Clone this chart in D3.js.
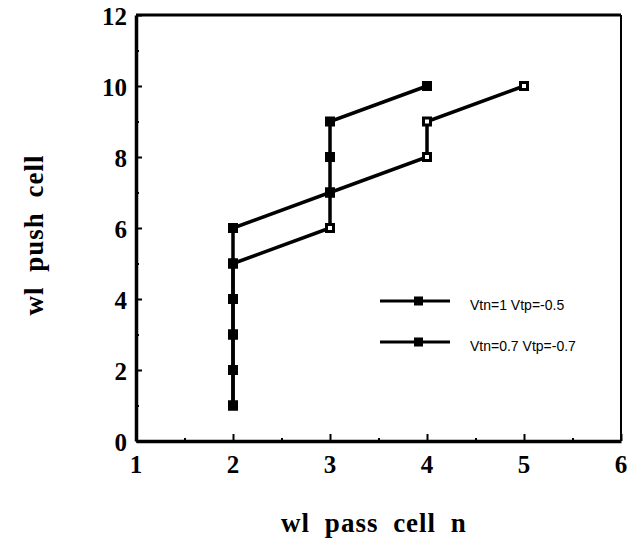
<!DOCTYPE html>
<html>
<head>
<meta charset="UTF-8">
<script src="https://d3js.org/d3.v7.min.js"></script>
<style>
  body { margin: 0; background: #fff; }
  .tick-label { font-family: "Liberation Serif", "DejaVu Serif", serif; font-weight: bold; font-size: 25px; fill: #000; }
  .axis-title { font-family: "Liberation Serif", "DejaVu Serif", serif; font-weight: bold; font-size: 27px; fill: #000;
                letter-spacing: 1px; word-spacing: 7px; }
  .legend text { font-family: "Liberation Sans", Arial, sans-serif; font-size: 14px; fill: #000; }
</style>
</head>
<body>
<div id="chart"></div>
<script>
// data
const seriesNames = ["Vtn=1 Vtp=-0.5", "Vtn=0.7 Vtp=-0.7"];
const xA = [2, 2, 2, 2, 2, 2, 3, 3, 3, 4];
const yA = [1, 2, 3, 4, 5, 6, 7, 8, 9, 10];
const xB = [2, 2, 2, 2, 2, 3, 3, 4, 4, 5];
const yB = [1, 2, 3, 4, 5, 6, 7, 8, 9, 10];
const xTicks = [1, 2, 3, 4, 5, 6];
const yTicks = [0, 2, 4, 6, 8, 10, 12];

const W = 627, H = 542;
const plotL = 136, plotR = 621, plotT = 15, plotB = 441;

const svg = d3.select("#chart").append("svg")
    .attr("width", W).attr("height", H);

const x = d3.scaleLinear().domain([1, 6]).range([plotL, plotR]);
const y = d3.scaleLinear().domain([0, 12]).range([plotB, plotT]);

// frame
svg.append("line").attr("x1", plotL).attr("x2", plotR).attr("y1", plotT).attr("y2", plotT)
    .attr("stroke", "#000").attr("stroke-width", 3);
svg.append("line").attr("x1", plotR).attr("x2", plotR).attr("y1", plotT).attr("y2", plotB)
    .attr("stroke", "#000").attr("stroke-width", 2);

// axes with inward ticks
const xAxis = d3.axisBottom(x).tickValues(d3.range(1, 6.01, 0.5)).tickSize(0).tickFormat("");
const gx = svg.append("g").attr("transform", `translate(0,${plotB})`).call(xAxis);
gx.select(".domain").attr("stroke-width", 3.5).attr("stroke", "#000");
gx.selectAll(".tick line")
    .attr("y2", d => Number.isInteger(d) ? -7 : -3)
    .attr("stroke-width", 2).attr("stroke", "#000");

const yAxis = d3.axisLeft(y).tickValues(d3.range(0, 12.01, 1)).tickSize(0).tickFormat("");
const gy = svg.append("g").attr("transform", `translate(${plotL},0)`).call(yAxis);
gy.select(".domain").attr("stroke-width", 3.5).attr("stroke", "#000");
gy.selectAll(".tick line")
    .attr("x2", d => d % 2 === 0 ? 6 : 3)
    .attr("stroke-width", 2).attr("stroke", "#000");

// tick labels
svg.selectAll(".xl").data(xTicks).join("text")
    .attr("class", "tick-label")
    .attr("x", d => x(d)).attr("y", plotB + 32)
    .attr("text-anchor", "middle").text(d => d);
svg.selectAll(".yl").data(yTicks).join("text")
    .attr("class", "tick-label")
    .attr("x", plotL - 9).attr("y", d => y(d) + 10)
    .attr("text-anchor", "end").text(d => d);

// axis titles
svg.append("text").attr("class", "axis-title")
    .attr("x", 374).attr("y", 532).attr("text-anchor", "middle")
    .text("wl pass cell n");
svg.append("text").attr("class", "axis-title")
    .attr("transform", `translate(43,235) rotate(-90)`).attr("text-anchor", "middle")
    .text("wl push cell");

const line = d3.line().x(d => x(d[0])).y(d => y(d[1]));
const series = [
  { pts: d3.zip(xB, yB), open: true },
  { pts: d3.zip(xA, yA), open: false }
];

series.forEach(s => {
  svg.append("path").datum(s.pts)
    .attr("d", line).attr("fill", "none")
    .attr("stroke", "#000").attr("stroke-width", 3.5);
});
series.forEach(s => {
  const sz = s.open ? 7 : 9;
  svg.selectAll(null).data(s.pts).join("rect")
    .attr("x", d => x(d[0]) - sz / 2).attr("y", d => y(d[1]) - sz / 2)
    .attr("width", sz).attr("height", sz)
    .attr("fill", s.open ? "#fff" : "#000")
    .attr("stroke", "#000").attr("stroke-width", s.open ? 3 : 1);
});

// legend
const legend = svg.append("g").attr("class", "legend");
const legY = [301, 342];
seriesNames.forEach((name, i) => {
  legend.append("line").attr("x1", 380).attr("x2", 450)
    .attr("y1", legY[i]).attr("y2", legY[i])
    .attr("stroke", "#000").attr("stroke-width", 3);
  legend.append("rect").attr("x", 414).attr("y", legY[i] - 4.5)
    .attr("width", 9).attr("height", 9).attr("fill", "#000");
  legend.append("text").attr("x", 470).attr("y", legY[i] + 9).text(name);
});
</script>
</body>
</html>
